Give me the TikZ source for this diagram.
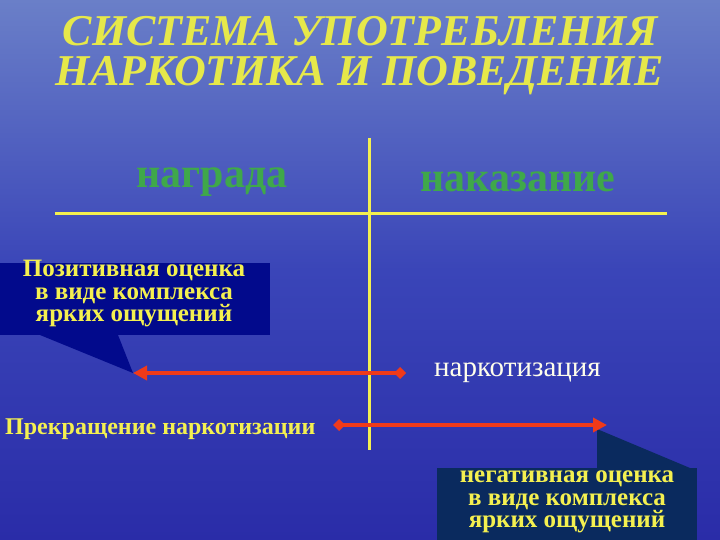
\documentclass[tikz,border=0pt]{standalone}
\usepackage{fontspec}
\setmainfont{Liberation Serif}
\usetikzlibrary{arrows.meta}
\definecolor{bgtop}{HTML}{6A7FC8}
\definecolor{bgmid}{HTML}{3A45B8}
\definecolor{bgbot}{HTML}{2A2CA8}
\definecolor{ttl}{HTML}{E6E84A}
\definecolor{grn}{HTML}{3FA84A}
\definecolor{yel}{HTML}{F4F050}
\definecolor{redl}{HTML}{F03A1A}
\definecolor{box1}{HTML}{020A8C}
\definecolor{box2}{HTML}{0A2A5E}
\tikzset{
  title/.style={font=\fontsize{44}{44}\selectfont\bfseries\itshape, text=ttl, inner sep=0pt},
  head/.style={font=\fontsize{42}{42}\selectfont\bfseries, text=grn},
  callout/.style={font=\fontsize{25}{22.5}\selectfont\bfseries, text=yel, align=center, inner sep=0pt},
  redarrow/.style={draw=redl, line width=3.5pt, {Diamond[length=12pt,width=12pt]}-{Triangle[length=14pt,width=14pt]}},
  yline/.style={draw=yel, line width=3pt}
}
\begin{document}
\begin{tikzpicture}[x=1pt,y=-1pt]
\useasboundingbox (0,0) rectangle (720,540);
\shade[top color=bgtop, bottom color=bgbot, middle color=bgmid] (0,0) rectangle (720,540);
% title
\node[title] (t1) at (360,31) {СИСТЕМА УПОТРЕБЛЕНИЯ};
\node[title] (t2) at (360,76) {НАРКОТИКА И ПОВЕДЕНИЕ};
% headings
\node[head] (nag) at (212,182) {награда};
\node[head] (nak) at (518,182) {наказание};
% T lines
\coordinate (hl) at (55,214); \coordinate (hr) at (667,214);
\coordinate (vt) at (369,138); \coordinate (vb) at (369,450);
\draw[yline] (hl) -- (hr);
\draw[yline] (vt) -- (vb);
% callout 1
\coordinate (p1) at (133,373);
\fill[box1] (0,263) rectangle (270,335);
\fill[box1] (40,335) -- (p1) -- (118,335) -- cycle;
\node[callout] (c1) at (134,294) {Позитивная оценка\\в виде комплекса\\ярких ощущений};
% arrow 1
\coordinate (d1) at (406,373);
\draw[redarrow] (d1) -- (p1);
\node[font=\fontsize{29}{29}\selectfont, text=white!92!yellow, anchor=west, inner sep=0pt] (nark) at (434,373) {наркотизация};
% second row
\node[font=\fontsize{24}{24}\selectfont\bfseries, text=yel, anchor=west, inner sep=0pt] (prek) at (5,429) {Прекращение наркотизации};
\coordinate (d2) at (333,425); \coordinate (p2) at (607,425);
\fill[box2] (597,429) -- (597,468) -- (690,468) -- cycle;
\fill[box2] (437,468) rectangle (697,540);
\draw[redarrow] (d2) -- (p2);
\node[callout] (c2) at (567,502) {негативная оценка\\в виде комплекса\\ярких ощущений};
\end{tikzpicture}
\end{document}
